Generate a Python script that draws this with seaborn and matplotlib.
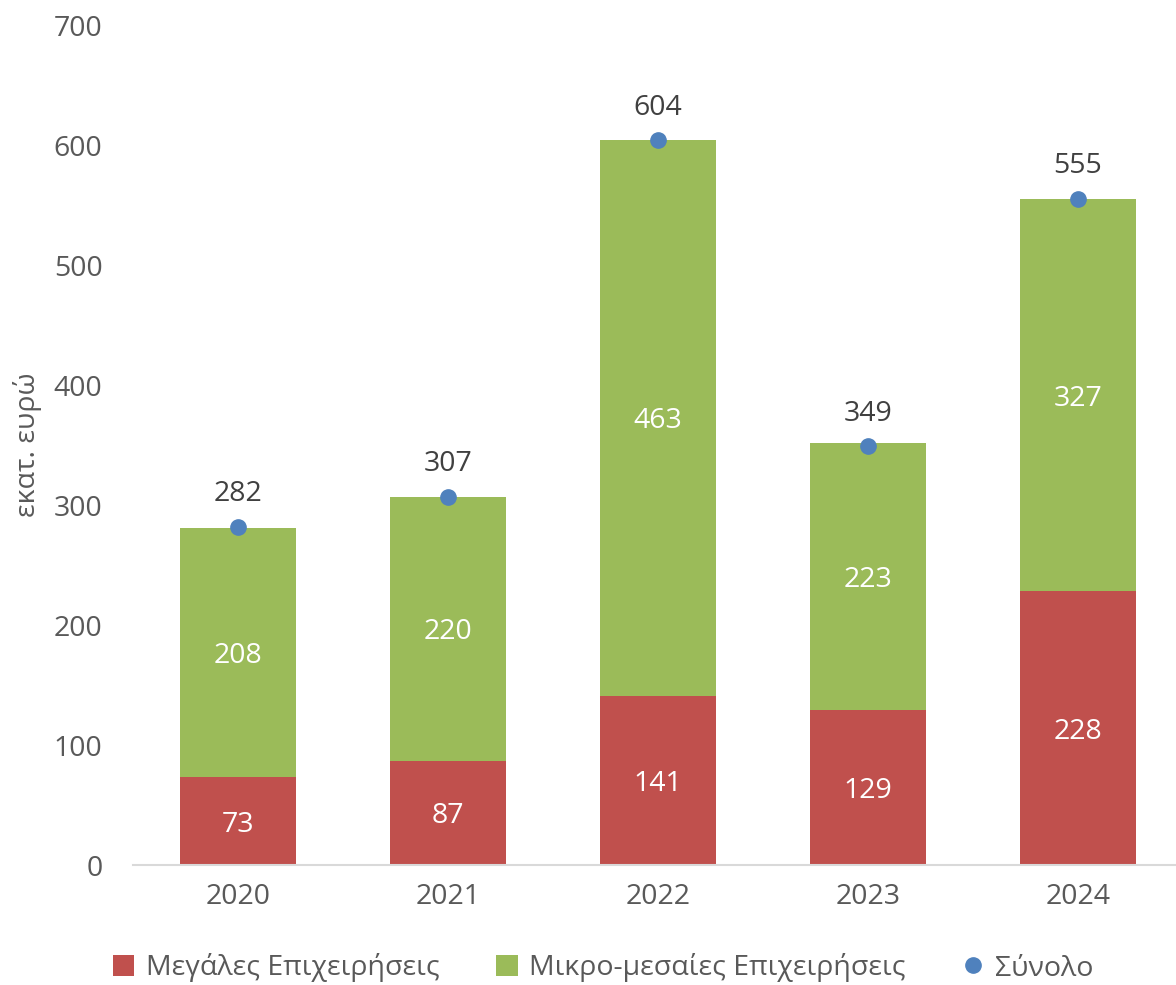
import matplotlib
matplotlib.use("Agg")
import matplotlib.pyplot as plt
import seaborn as sns
import pandas as pd
import numpy as np
from matplotlib.lines import Line2D
from matplotlib.patches import Patch

years = ["2020", "2021", "2022", "2023", "2024"]
large = [73, 87, 141, 129, 228]
smes = [208, 220, 463, 223, 327]
total = [282, 307, 604, 349, 555]

RED = "#C0504D"
GREEN = "#9BBB59"
BLUE = "#4F81BD"
GRAY = "#595959"

sns.set_theme(style="white")
plt.rcParams["font.family"] = ["Open Sans", "DejaVu Sans"]

stack_top = [a + b for a, b in zip(large, smes)]
df = pd.DataFrame({"year": years, "large": large, "smes": smes,
                   "stack": stack_top, "total": total})

fig = plt.figure(figsize=(11.76, 9.85), dpi=100)
ax = fig.add_axes([133/1176, 120/985, (1176-133)/1176, 840/985])

sns.barplot(data=df, x="year", y="stack", color=GREEN, saturation=1,
            width=0.557, ax=ax, linewidth=0, zorder=2)
sns.barplot(data=df, x="year", y="large", color=RED, saturation=1,
            width=0.557, ax=ax, linewidth=0, zorder=2)
ax.plot(np.arange(len(years)), df["total"], linestyle="none", marker="o",
        markersize=11, color=BLUE, zorder=4)

fs = 20.5
for i in range(len(years)):
    ax.text(i, large[i] / 2, str(large[i]), ha="center", va="center_baseline",
            color="white", fontsize=fs, zorder=5)
    ax.text(i, large[i] + smes[i] / 2, str(smes[i]), ha="center",
            va="center_baseline", color="white", fontsize=fs, zorder=5)
    ax.annotate(str(total[i]), (i, total[i]), xytext=(0, 26),
                textcoords="offset points", ha="center", va="center_baseline",
                color="#404040", fontsize=fs, zorder=5)

ax.set_ylim(0, 700)
ax.set_xlim(-0.5, (1176 - 238) / 210)
ax.set_yticks(range(0, 701, 100))
ax.tick_params(axis="both", labelsize=fs, colors=GRAY, length=0)
ax.tick_params(axis="x", pad=13)
ax.tick_params(axis="y", pad=22)
for s in ["top", "right", "left"]:
    ax.spines[s].set_visible(False)
ax.spines["bottom"].set_color("#D9D9D9")
ax.spines["bottom"].set_linewidth(1.5)
ax.set_xlabel("")
ax.set_ylabel("εκατ. ευρώ", fontsize=fs, color=GRAY)
ax.yaxis.set_label_coords(-0.087, 0.5)
ax.grid(False)

handles = [Patch(facecolor=RED, edgecolor="none"),
           Patch(facecolor=GREEN, edgecolor="none"),
           Line2D([], [], linestyle="none", marker="o", markersize=11, color=BLUE)]
labels = ["Μεγάλες Επιχειρήσεις", "Μικρο-μεσαίες Επιχειρήσεις", "Σύνολο"]
fig.legend(handles, labels, loc="center", bbox_to_anchor=(0.513, 17/985),
           ncol=3, frameon=False, fontsize=fs, labelcolor=GRAY,
           handlelength=0.75, handleheight=0.75, handletextpad=0.4,
           columnspacing=2.0)

fig.savefig("out.png", dpi=100)
